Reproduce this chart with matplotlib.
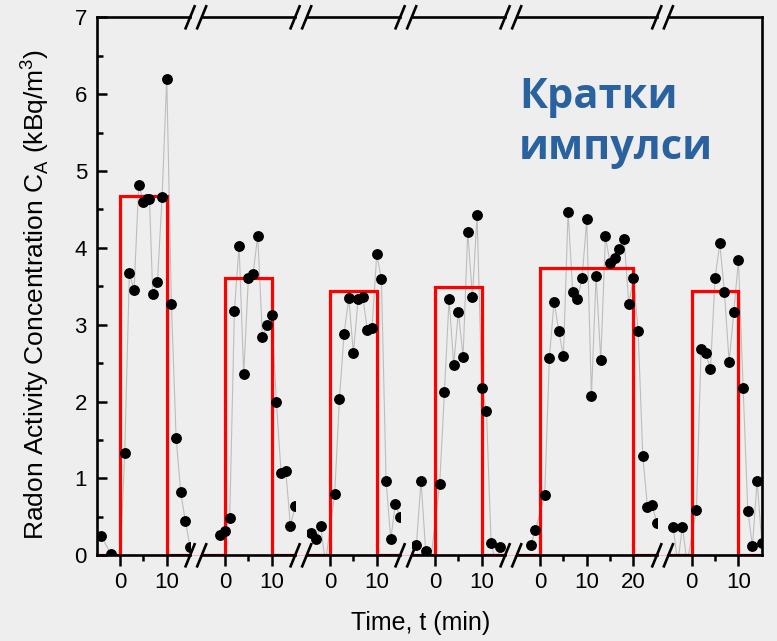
import matplotlib
matplotlib.use("Agg")
import matplotlib.pyplot as plt
from matplotlib.lines import Line2D
from matplotlib.ticker import FixedLocator

plt.rcParams["font.family"] = ["Liberation Sans", "DejaVu Sans"]
plt.rcParams["mathtext.fontset"] = "custom"
plt.rcParams["mathtext.rm"] = "Liberation Sans"

# ---- measured radon concentration per pulse (time in min, C_A in kBq/m^3) ----
seg1_t = [-4, -2, -1, 0, 1, 2, 3, 4, 5, 5.8, 6.3, 7, 8, 9, 10, 11, 12, 13, 14, 15]
seg1_c = [0.25, 0.02, -0.1, -0.1, 1.33, 3.67, 3.45, 4.82, 4.60, 4.63, 4.64, 3.40, 3.55,
          4.66, 6.20, 3.27, 1.53, 0.82, 0.44, 0.11]

seg2_t = [-1, 0, 1, 2, 3, 4, 5, 6, 7, 8, 9, 10, 11, 12, 13, 14, 15]
seg2_c = [0.26, 0.32, 0.48, 3.18, 4.03, 2.36, 3.61, 3.66, 4.16, 2.84, 2.99, 3.13,
          1.99, 1.07, 1.10, 0.38, 0.64]

seg3_t = [-4, -3, -2, -1, 1, 2, 3, 4, 5, 6, 7, 8, 9, 10, 11, 12, 13, 14, 15]
seg3_c = [0.29, 0.21, 0.38, -0.1, 0.80, 2.03, 2.88, 3.35, 2.63, 3.33, 3.36, 2.93,
          2.96, 3.92, 3.59, 0.97, 0.21, 0.67, 0.50]

seg4_t = [-4, -3, -2, -1, 1, 2, 3, 4, 5, 6, 7, 8, 9, 10, 11, 12, 13, 14]
seg4_c = [0.13, 0.97, 0.05, -0.1, 0.93, 2.12, 3.33, 2.48, 3.17, 2.58, 4.21, 3.36,
          4.43, 2.18, 1.88, 0.16, -0.1, 0.11]

seg5_t = [-2, -1, 1, 2, 3, 4, 5, 6, 7, 8, 9, 10, 11, 12, 13, 14, 15, 16, 17, 18,
          19, 20, 21, 22, 23, 24, 25]
seg5_c = [0.13, 0.33, 0.78, 2.57, 3.30, 2.92, 2.59, 4.47, 3.43, 3.33, 3.61, 4.37,
          2.07, 3.64, 2.54, 4.15, 3.80, 3.87, 3.99, 4.12, 3.27, 3.61, 2.92, 1.29,
          0.63, 0.66, 0.42]

seg6_t = [-4, -3, -2, -1, 1, 2, 3, 4, 5, 6, 7, 8, 9, 10, 11, 12, 13, 14, 15]
seg6_c = [0.37, -0.1, 0.37, -0.1, 0.59, 2.68, 2.63, 2.42, 3.61, 4.06, 3.42, 2.52,
          3.16, 3.84, 2.18, 0.58, 0.12, 0.97, 0.16]

# rectangular source pulses: level (kBq/m^3) and duration (min)
pulse_level = [4.68, 3.61, 3.44, 3.49, 3.74, 3.44]
pulse_len = [10, 10, 10, 10, 20, 10]

# visible time window of each axis segment
seg_xlim = [(-5, 15), (-5, 15), (-5, 15), (-5, 15), (-5, 25), (-5, 15)]
seg_major = [[0, 10], [0, 10], [0, 10], [0, 10], [0, 10, 20], [0, 10]]
seg_minor = [[5], [5], [5], [5], [5, 15], [5]]

series_t = [seg1_t, seg2_t, seg3_t, seg4_t, seg5_t, seg6_t]
series_c = [seg1_c, seg2_c, seg3_c, seg4_c, seg5_c, seg6_c]

y_min, y_max = 0, 7

# ---- figure layout (pixel based) ----
W, H = 777, 641
fig = plt.figure(figsize=(W / 100, H / 100), dpi=100, facecolor="#eeeeee")

px_per_min = 4.67
gap_px = 11.6
left_px = 96.7
top_px, bottom_px = 17.3, 555.3


def fx(px):
    return px / W


def fy(py):
    return 1 - py / H


axes = []
edges = []
x_cursor = left_px
for i, (lo, hi) in enumerate(seg_xlim):
    w_px = (hi - lo) * px_per_min
    ax = fig.add_axes([fx(x_cursor), fy(bottom_px), w_px / W, (bottom_px - top_px) / H])
    ax.set_facecolor("none")
    edges.append((x_cursor, x_cursor + w_px))
    x_cursor += w_px + gap_px
    axes.append(ax)

spine_lw = 1.9
for i, ax in enumerate(axes):
    lo, hi = seg_xlim[i]
    t, c = series_t[i], series_c[i]
    ax.plot(t, c, color="#bdbdbd", lw=0.8, zorder=1)
    L, lvl = pulse_len[i], pulse_level[i]
    ax.plot([lo, 0, 0, L, L, hi], [0, 0, lvl, lvl, 0, 0], color="#ff0000",
            lw=2.3, zorder=2, solid_joinstyle="miter")
    ax.plot(t, c, ls="none", marker="o", ms=6.8, color="black", zorder=3)

    ax.set_xlim(lo, hi)
    ax.set_ylim(y_min, y_max)
    ax.xaxis.set_major_locator(FixedLocator(seg_major[i]))
    ax.xaxis.set_minor_locator(FixedLocator(seg_minor[i]))
    ax.tick_params(axis="x", which="major", direction="out", length=8, width=1.8,
                   labelsize=16, pad=4)
    ax.tick_params(axis="x", which="minor", direction="out", length=4, width=1.8)

    for side in ("top", "bottom", "left", "right"):
        ax.spines[side].set_linewidth(spine_lw)
    ax.spines["left"].set_visible(i == 0)
    ax.spines["right"].set_visible(i == len(axes) - 1)

    if i == 0:
        ax.yaxis.set_major_locator(FixedLocator(range(0, 8)))
        ax.yaxis.set_minor_locator(FixedLocator([k + 0.5 for k in range(7)]))
        ax.tick_params(axis="y", which="major", direction="in", length=7, width=1.8,
                       labelsize=16, pad=7)
        ax.tick_params(axis="y", which="minor", direction="in", length=4, width=1.8)
    else:
        ax.tick_params(axis="y", which="both", left=False, right=False,
                       labelleft=False)

# faint baseline running through the breaks
fig.add_artist(Line2D([fx(left_px), fx(edges[-1][1])], [fy(bottom_px - 0.5)] * 2,
                      color="#ffb4b4", lw=0.7, zorder=0))

# break marks on top and bottom axis lines
for i in range(len(edges) - 1):
    for xc in (edges[i][1], edges[i + 1][0]):
        for yc in (top_px, bottom_px):
            fig.add_artist(Line2D([fx(xc - 4.5), fx(xc + 4.5)],
                                  [fy(yc + 11), fy(yc - 11)],
                                  color="black", lw=1.9, zorder=5))

fig.text(fx(421), fy(630), "Time, t (min)", ha="center", va="baseline", fontsize=18)
fig.text(fx(35), fy(294), r"Radon Activity Concentration C$_\mathregular{A}$ (kBq/m$^\mathregular{3}$)",
         rotation=90, ha="center", va="center", fontsize=19)

title_kw = dict(fontsize=30, fontweight="bold", color="#2a62a0",
                family=["Open Sans", "DejaVu Sans"], ha="left", va="baseline")
fig.text(fx(519), fy(108), "Кратки", **title_kw)
fig.text(fx(519), fy(159), "импулси", **title_kw)

fig.savefig("out.png", dpi=100, facecolor=fig.get_facecolor())
